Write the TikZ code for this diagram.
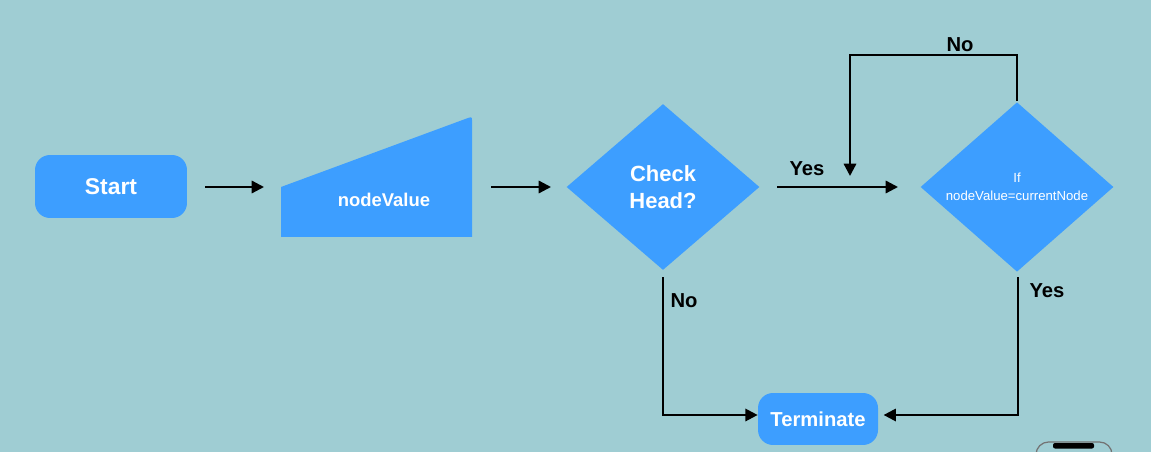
\documentclass[tikz,border=0pt]{standalone}
\usepackage{fontspec}
\setmainfont{Liberation Sans}
\usetikzlibrary{shapes.geometric,arrows.meta}
\definecolor{bg}{HTML}{9FCDD3}
\definecolor{boxblue}{HTML}{3D9EFF}
\tikzset{
  px/.style={x=0.02cm,y=-0.02cm},
  termbox/.style={rounded corners=0.3cm, fill=boxblue, text=white, font=\bfseries\fontsize{13}{14}\selectfont, inner sep=0pt},
  decbox/.style={diamond, fill=boxblue, text=white, inner sep=0pt, align=center},
  conn/.style={draw=black, line width=1.3pt, -{Triangle[length=7pt,width=7pt]}},
  lbl/.style={font=\bfseries\fontsize{11.5}{13}\selectfont, text=black, inner sep=0pt}
}
\begin{document}
\begin{tikzpicture}[px]
\fill[bg] (0,0) rectangle (1151,452);
\useasboundingbox (0,0) rectangle (1151,452);
% Start
\node[termbox, minimum width=3.04cm, minimum height=1.26cm] (start) at (111,186.5) {Start};
% manual input
\fill[boxblue] (281,237) -- (281,187) -- (468,118) .. controls (471,117) and (472,117) .. (472,120) -- (472,237) -- cycle;
\node[text=white, font=\bfseries\fontsize{10.5}{12}\selectfont] (nv) at (384,200) {nodeValue};
% decisions
\node[decbox, minimum width=3.86cm, minimum height=3.32cm, font=\bfseries\fontsize{12.5}{15}\selectfont] (chk) at (663,187) {Check\\Head?};
\node[decbox, minimum width=3.86cm, minimum height=3.32cm, font=\fontsize{7.5}{10}\selectfont] (cmp) at (1017,187) {If\\nodeValue=currentNode};
% Terminate
\node[termbox, minimum width=2.4cm, minimum height=1.04cm, font=\bfseries\fontsize{11.5}{13}\selectfont] (term) at (818,419) {Terminate};
% connectors
\coordinate (a1s) at (205,187); \coordinate (a1e) at (264,187);
\draw[conn] (a1s) -- (a1e);
\coordinate (a2s) at (491,187); \coordinate (a2e) at (551,187);
\draw[conn] (a2s) -- (a2e);
\coordinate (ys) at (777,187); \coordinate (ye) at (898,187);
\draw[conn] (ys) -- (ye);
\node[lbl] (yes1) at (807,169) {Yes};
% No loop
\coordinate (l0) at (1017,101);
\coordinate (l1) at (1017,55);
\coordinate (l2) at (850,55);
\coordinate (l3) at (850,176);
\draw[conn] (l0) -- (l1) -- (l2) -- (l3);
\node[lbl] (no1) at (960,45) {No};
% Check head No
\coordinate (n0) at (663,277);
\coordinate (n1) at (663,415);
\draw[conn] (n0) -- (n1) -- (term.west |- n1);
\node[lbl] (no2) at (684,301) {No};
% compare Yes
\coordinate (y0) at (1018,277);
\coordinate (y1) at (1018,415);
\draw[conn] (y0) -- (y1) -- ([xshift=3pt]term.east |- y1);
\node[lbl] (yes2) at (1047,291) {Yes};
% phone artifact
\draw[line width=0.7pt, draw=black!55, rounded corners=0.25cm] (1036,460) -- (1036,442) -- (1112,442) -- (1112,460);
\fill[black, rounded corners=0.04cm] (1053,443) rectangle (1094,448.5);
\end{tikzpicture}
\end{document}
